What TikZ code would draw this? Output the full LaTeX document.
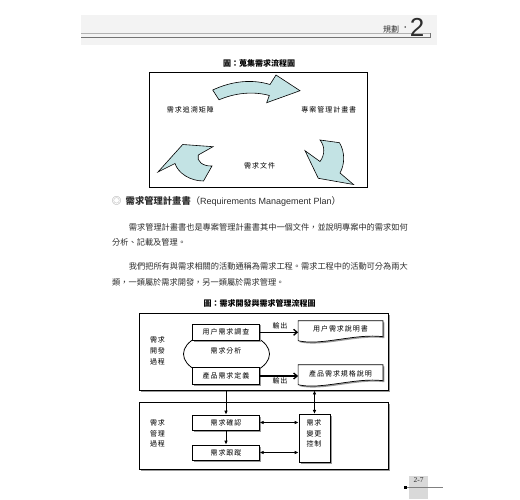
\documentclass[tikz,border=0pt]{standalone}
\usepackage{fontspec}
\setmainfont{Liberation Serif}
\newfontfamily\cjk{Noto Sans CJK TC}
\newfontfamily\cjksp{Noto Sans CJK TC}[LetterSpace=14]
\newfontfamily\lsans{Liberation Sans}
\usetikzlibrary{shadows,arrows.meta,shapes.geometric,calc}
\definecolor{arrowfill}{RGB}{195,227,228}
\definecolor{bandgray}{RGB}{243,243,243}
\definecolor{txtgray}{RGB}{45,45,45}
\begin{document}
\begin{tikzpicture}[x=1pt,y=-1pt,
  lbl/.style={font=\cjksp\fontsize{7}{10.7}\selectfont, inner sep=0pt, align=center},
  figcap/.style={font=\cjk\bfseries\fontsize{8}{9}\selectfont, inner sep=0pt},
  body/.style={font=\cjk\fontsize{8.2}{10}\selectfont, inner sep=0pt, anchor=west, text=txtgray},
  dropsh/.style={drop shadow={shadow xshift=1.5pt, shadow yshift=-1.5pt, fill=black!40, opacity=1}},
  bigbox/.style={draw, line width=0.8pt, fill=white, dropsh, inner sep=0pt},
  smallbox/.style={draw, line width=0.7pt, fill=white, dropsh, inner sep=0pt, minimum width=66.6pt, font=\cjksp\fontsize{7}{10.7}\selectfont, align=center},
  blockarrow/.style={draw, line width=0.6pt, fill=arrowfill, line join=miter},
  arr/.style={line width=1pt, -{Latex[length=4pt,width=3.6pt]}},
  darr/.style={line width=0.8pt, {Latex[length=4pt,width=3.6pt]}-{Latex[length=4pt,width=3.6pt]}},
  outarr/.style={line width=1.3pt, -{Straight Barb[length=3.5pt,width=6pt]}}]
\useasboundingbox (0,0) rectangle (520,500);
\fill[white] (0,0) rectangle (520,500);

% header
\fill[bandgray] (81,15) rectangle (437,45);
\draw[black!30, line width=0.6pt] (81,33) -- (430,33);
\draw[black!55, line width=0.9pt] (81,37.5) -- (430,37.5) -- (430,33.5);
\node[font=\cjk\fontsize{8}{9}\selectfont, text=txtgray, inner sep=0pt] (hdr) at (391,29) {規劃};
\node[font=\lsans\bfseries\fontsize{9}{9}\selectfont, text=txtgray, inner sep=0pt] (hdot) at (405.5,28.5) {·};
\node[font=\lsans\fontsize{26}{26}\selectfont, text=txtgray, inner sep=0pt] (hnum) at (417,27.5) {2};

% figure 1
\node[figcap] (cap1) at (259,63) {圖：蒐集需求流程圖};
\node[draw, line width=0.8pt, minimum width=218pt, minimum height=115pt, inner sep=0pt] (fig1) at (258,129.5) {};
\node[lbl] (trace) at (190.3,110) {需求追溯矩陣};
\node[lbl] (plan) at (328.8,110) {專案管理計畫書};
\node[lbl] (reqdoc) at (259.7,166) {需求文件};
\path[blockarrow] (212.7,90) .. controls (232,81) and (252,79) .. (270,84.5) -- (276,75) -- (300,90.7) -- (266.7,102.7) -- (269.3,95.5) .. controls (253,91) and (235,93) .. (219,99.8) -- cycle;
\path[blockarrow] (158,172) -- (182.7,144.5) -- (213,146.7) -- (198.3,155) .. controls (196,161) and (203,166.5) .. (212,166) -- (203.5,181) .. controls (190,181) and (178,173) .. (175,163.5) -- cycle;
\path[blockarrow] (320,140) -- (339.5,142.7) .. controls (345,152) and (345,164) .. (340,173) -- (353.5,184.5) -- (318.3,178.3) -- (305,150.7) -- (320,161.5) .. controls (325,155) and (325,146) .. (320,140) -- cycle;

% section heading and body
\node[font=\cjk\fontsize{9.5}{10}\selectfont, text=black!45, inner sep=0pt] (bullet) at (116.5,201) {◎};
\node[inner sep=0pt, anchor=west, text=txtgray] (head) at (125.5,201) {{\cjk\bfseries\fontsize{9.3}{10}\selectfont 需求管理計畫書}{\cjk\fontsize{9.3}{10}\selectfont （}{\lsans\fontsize{9}{10}\selectfont Requirements Management Plan}{\cjk\fontsize{9.3}{10}\selectfont ）}};
\node[body] (p1a) at (128.7,227) {需求管理計畫書也是專案管理計畫書其中一個文件，並說明專案中的需求如何};
\node[body] (p1b) at (112,242.3) {分析、記載及管理。};
\node[body] (p2a) at (128.7,266.7) {我們把所有與需求相關的活動通稱為需求工程。需求工程中的活動可分為兩大};
\node[body] (p2b) at (112,282.3) {類，一類屬於需求開發，另一類屬於需求管理。};

% figure 2
\node[figcap] (cap2) at (259.7,303) {圖：需求開發與需求管理流程圖};
\node[bigbox, minimum width=248.6pt, minimum height=76.7pt] (dev) at (264,351.7) {};
\node[bigbox, minimum width=248.6pt, minimum height=67pt] (mgmt) at (264,435.8) {};
\node[lbl] (devlbl) at (157.5,351) {需求\\開發\\過程};
\node[lbl] (mgmtlbl) at (157.5,433.5) {需求\\管理\\過程};
\node[draw, ellipse, line width=0.8pt, minimum width=86pt, minimum height=46pt, inner sep=0pt] (anal) at (226.5,354) {};
\node[lbl] (analtxt) at (226,351) {需求分析};
\node[smallbox, minimum height=16.7pt] (survey) at (226,332.3) {用户需求調查};
\node[smallbox, minimum height=16.7pt] (define) at (226,376) {產品需求定義};
\node[smallbox, minimum height=15pt] (confirm) at (226,422.5) {需求確認};
\node[smallbox, minimum height=15pt] (track) at (226,452.5) {需求跟蹤};
\node[smallbox, minimum width=31pt, minimum height=48.4pt] (change) at (314.5,438.5) {};
\node[lbl] (changetxt) at (314,433.5) {需求\\變更\\控制};

\node[inner sep=0pt, minimum width=84.4pt, minimum height=18pt] (doc1) at (340.5,330) {};
\node[inner sep=0pt, minimum width=84.4pt, minimum height=18pt] (doc2) at (340.5,374) {};
\path[draw, line width=0.7pt, fill=white, dropsh] (doc1.north west) -- (doc1.north east) -- ($(doc1.south east)+(0,-2.5)$) .. controls ($(doc1.south)+(15,-6)$) and ($(doc1.south)+(-20,7)$) .. ($(doc1.south west)+(0,1.5)$) -- cycle;
\path[draw, line width=0.7pt, fill=white, dropsh] (doc2.north west) -- (doc2.north east) -- ($(doc2.south east)+(0,-2.5)$) .. controls ($(doc2.south)+(15,-6)$) and ($(doc2.south)+(-20,7)$) .. ($(doc2.south west)+(0,1.5)$) -- cycle;
\node[lbl] (doc1txt) at (340.5,329.3) {用户需求說明書};
\node[lbl] (doc2txt) at (340.5,374) {產品需求規格說明};

\draw[outarr] (survey.east) -- (survey.east -| doc1.west);
\draw[outarr] (define.east) -- (define.east -| doc2.west);
\node[lbl] (out1) at (280,326) {輸出};
\node[lbl] (out2) at (280,380.5) {輸出};

\draw[arr] (confirm.north |- dev.south) -- (confirm.north);
\draw[arr] (confirm.south) -- (track.north);
\draw[darr] (confirm.east) -- (confirm.east -| change.west);
\draw[darr] (track.east) -- (track.east -| change.west);
\draw[darr] (change.north) -- (change.north |- dev.south);

% footer
\fill[black!15] (409.3,475.7) rectangle (427.7,499);
\node[font=\fontsize{7.5}{8}\selectfont, text=txtgray, inner sep=0pt] (pg) at (418.5,480.5) {2-7};
\draw[black!50, line width=0.6pt] (405,487.3) -- (443.3,487.3);
\fill[black] (403.5,485.8) rectangle (406.5,488.8);
\end{tikzpicture}
\end{document}
